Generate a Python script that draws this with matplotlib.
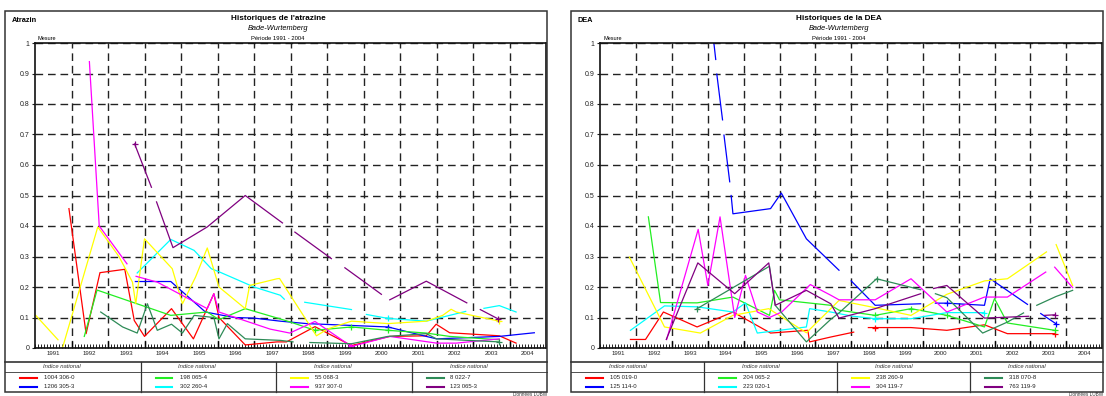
import numpy as np
import matplotlib.pyplot as plt
from matplotlib.lines import Line2D
from matplotlib.patches import Rectangle

plt.rcParams['font.family'] = ['Liberation Sans', 'DejaVu Sans']

W, H = 1106, 396
N = None

# ---- data: atrazine (Bade-Wurtemberg) ----
atz_labels = ['1004 306-0', '1206 305-3', '198 065-4', '302 260-4',
              '55 068-3', '937 307-0', '8 022-7', '123 065-3']

atz_red_x = [1991.93, 1992.40, 1992.78, 1993.46, 1993.72, 1994.00, 1994.74, 1995.34, 1995.90, 1996.04,
             1996.76, 1997.63, 1997.89, 1998.67, 1999.67, 2000.72, 2001.72, 2001.99, 2002.36, 2003.72, 2004.18]
atz_red_y = [0.457, 0.047, 0.247, 0.258, 0.09, 0.038, 0.129, 0.03, 0.178, 0.10,
             0.01, 0.02, 0.02, 0.07, 0.008, 0.038, 0.04, 0.078, 0.05, 0.04, 0.016]

atz_blue_x = [1993.75, 1994.72, 1995.67, 1996.45, 1997.00, 1997.72, 1998.44, 2000.67, 2001.72, 2002.00, 2003.72, 2004.68]
atz_blue_y = [0.218, 0.218, 0.118, 0.10, 0.098, 0.088, 0.08, 0.069, 0.038, 0.03, 0.038, 0.05]

atz_green_x = [1992.35, 1992.70, 1994.72, 1995.72, 1996.04, 1996.76, 1997.70, 1998.00, 1998.67, 1999.67,
               2000.67, 2001.72, 2002.36, 2003.72]
atz_green_y = [0.038, 0.19, 0.107, 0.118, 0.093, 0.129, 0.096, 0.085, 0.058, 0.069,
               0.058, 0.049, 0.038, 0.027]

atz_cyan_x = [1993.80, 1994.72, 1995.36, 1995.83, 1996.04, 1997.00, 1997.72, 1997.83, N, 1998.39, 1999.67, N,
              2000.08, 2000.67, 2001.72, 2002.80, N, 2003.30, 2003.72, 2004.18]
atz_cyan_y = [0.246, 0.356, 0.32, 0.26, 0.25, 0.20, 0.173, 0.16, N, 0.15, 0.126, N,
              0.11, 0.097, 0.088, 0.12, N, 0.13, 0.139, 0.118]

atz_yellow_x = [1991.02, 1991.63, N, 1991.76, 1992.72, 1993.30, 1993.67, 1993.76, 1994.00, 1994.76, 1995.04,
                1995.40, 1995.72, 1996.04, 1996.76, 1996.88, 1997.63, 1997.70, 1998.71, 1999.03, 1999.67,
                2000.67, 2001.72, 2002.17, 2002.40, 2002.54, 2003.72]
atz_yellow_y = [0.107, 0.027, N, 0.003, 0.397, 0.30, 0.216, 0.145, 0.358, 0.26, 0.145,
                0.233, 0.328, 0.20, 0.129, 0.205, 0.227, 0.228, 0.04, 0.063, 0.088,
                0.08, 0.088, 0.107, 0.127, 0.118, 0.088]

atz_magenta_x = [1992.49, 1992.76, 1993.52, N, 1993.77, 1994.35, 1995.72, 1995.90, 1996.04, 1997.44, 1997.98,
                 1998.67, 1999.67, 2000.72, 2002.00, 2002.54, 2003.72]
atz_magenta_y = [0.939, 0.40, 0.276, N, 0.235, 0.216, 0.129, 0.178, 0.118, 0.062, 0.049,
                 0.087, 0.005, 0.038, 0.016, 0.016, 0.03]

atz_sea_x = [1992.80, 1993.40, 1993.80, 1994.08, 1994.35, 1994.74, 1995.04, 1995.36, 1995.90, 1996.04,
             1996.27, 1996.76, 1997.72, 1998.07, N, 1998.53, 1999.67, 2000.67, 2001.72, 2002.00, 2003.72]
atz_sea_y = [0.118, 0.069, 0.049, 0.145, 0.058, 0.078, 0.049, 0.107, 0.10, 0.03,
             0.08, 0.03, 0.025, 0.02, N, 0.018, 0.014, 0.038, 0.047, 0.03, 0.02]

atz_purple_x = [1993.73, 1994.19, N, 1994.33, 1994.78, 1995.72, 1996.76, 1997.78, N, 1998.12, 1999.12, N,
                1999.49, 2000.49, N, 2000.72, 2001.72, 2002.83, N, 2003.20, 2003.68]
atz_purple_y = [0.669, 0.527, N, 0.479, 0.329, 0.397, 0.50, 0.41, N, 0.38, 0.293, N,
                0.263, 0.176, N, 0.158, 0.219, 0.148, N, 0.126, 0.096]

# points drawn with a "+" (indices into each series above)
atz_plus = [[], [7], [8, 9, 10], [13], [26], [12], [20], [0, 20]]

# ---- data: DEA (Bade-Wurtemberg) ----
dea_labels = ['105 019-0', '125 114-0', '204 065-2', '223 020-1',
              '238 260-9', '304 119-7', '318 070-8', '763 119-9']

dea_red_x = [1991.84, 1992.26, 1992.76, 1993.70, 1994.70, 1995.75, 1996.79, 1996.84, 1997.43, 1998.07, N,
             1998.48, 1998.67, 1999.67, 2000.67, 2001.72, 2002.36, 2003.68]
dea_red_y = [0.028, 0.028, 0.118, 0.069, 0.118, 0.049, 0.058, 0.02, 0.036, 0.052, N,
             0.067, 0.067, 0.067, 0.058, 0.076, 0.047, 0.047]

dea_blue_x = [1994.12, 1994.22, N, 1994.25, 1994.41, N, 1994.45, 1994.61, N, 1994.65, 1994.70, 1995.75,
              1996.05, 1996.75, 1997.66, N, 1998.00, 1998.67, 1999.94, N, 2000.35, 2000.67, 2001.72,
              2001.88, 2002.92, N, 2003.29, 2003.71]
dea_blue_y = [1.05, 0.946, N, 0.898, 0.748, N, 0.698, 0.545, N, 0.50, 0.44, 0.457,
              0.508, 0.358, 0.255, N, 0.22, 0.14, 0.145, N, 0.147, 0.147, 0.14,
              0.227, 0.143, N, 0.113, 0.08]

dea_green_x = [1992.34, 1992.68, 1993.70, 1994.70, 1995.72, 1995.86, 1996.00, 1997.43, 1997.66, 1998.67,
               1999.67, 2000.67, 2001.72, 2002.00, 2002.36, 2003.68]
dea_green_y = [0.43, 0.149, 0.148, 0.167, 0.107, 0.189, 0.158, 0.14, 0.124, 0.107,
               0.129, 0.107, 0.069, 0.162, 0.082, 0.058]

dea_cyan_x = [1991.84, 1992.79, 1993.70, 1994.70, 1995.05, 1995.38, 1996.75, 1996.84, 1997.43, 1998.00,
              1998.67, 1999.67, 2000.67, 2001.72]
dea_cyan_y = [0.058, 0.138, 0.135, 0.118, 0.148, 0.049, 0.069, 0.129, 0.118, 0.105,
              0.096, 0.096, 0.116, 0.116]

dea_yellow_x = [1991.81, 1992.79, 1993.79, 1994.70, 1995.70, 1996.75, 1997.43, 1997.66, 1998.67, 1999.67,
                2000.67, 2001.72, 2002.36, 2003.45, N, 2003.72, 2004.18]
dea_yellow_y = [0.298, 0.069, 0.049, 0.107, 0.129, 0.05, 0.129, 0.156, 0.132, 0.107,
                0.176, 0.22, 0.227, 0.315, N, 0.339, 0.205]

dea_magenta_x = [1992.85, 1993.73, 1994.00, 1994.34, 1994.75, 1995.05, 1995.38, 1995.72, 1996.06, 1996.86,
                 1997.43, 1997.66, 1998.67, 1999.67, 2000.67, 2001.72, 2002.36, 2003.43, N, 2003.68, 2004.18]
dea_magenta_y = [0.028, 0.389, 0.205, 0.43, 0.10, 0.238, 0.118, 0.10, 0.118, 0.208,
                 0.173, 0.158, 0.158, 0.227, 0.118, 0.167, 0.167, 0.249, N, 0.265, 0.198]

dea_sea_x = [1993.70, 1995.72, 1995.88, 1996.75, 1997.43, 1997.66, 1998.71, 1999.94, N, 2000.35, 2000.67,
             2001.67, 2002.36, 2002.81, N, 2003.18, 2003.72, 2004.18]
dea_sea_y = [0.129, 0.268, 0.14, 0.02, 0.094, 0.115, 0.227, 0.191, N, 0.178, 0.165,
             0.049, 0.085, 0.115, N, 0.14, 0.169, 0.189]

dea_purple_x = [1992.84, 1993.72, 1994.75, 1995.70, 1995.88, 1996.75, 1997.43, 1997.66, 1998.67, 1999.94, N,
                2000.30, 2000.67, 2001.72, 2002.95, N, 2003.40, 2003.70]
dea_purple_y = [0.028, 0.279, 0.178, 0.279, 0.14, 0.189, 0.145, 0.098, 0.129, 0.178, N,
                0.195, 0.205, 0.098, 0.104, N, 0.107, 0.109]

dea_plus = [[12, 17], [21, 27], [9, 10, 11, 15], [10, 13], [], [], [0, 6], [17]]

years = list(range(1991, 2005))
colors = ['#ff0000', '#0000ff', '#22ee22', '#00ffff', '#ffff00', '#ff00ff', '#2e8b57', '#800080']


def fx(px):
    return px / W


def fy(py):
    return 1 - py / H


def hline(fig, x0, x1, y, lw=1.0, color='#333333'):
    fig.add_artist(Line2D([fx(x0), fx(x1)], [fy(y), fy(y)], lw=lw, color=color))


def vline(fig, x, y0, y1, lw=1.0, color='#333333'):
    fig.add_artist(Line2D([fx(x), fx(x)], [fy(y0), fy(y1)], lw=lw, color=color))


def panel(fig, frame, axbox, xlim, code, title, series, labels, plus):
    l, t, r, b = frame
    fig.add_artist(Rectangle((fx(l), fy(b)), fx(r) - fx(l), fy(t) - fy(b),
                             fill=False, lw=1.1, ec='#333333'))
    al, at, ar, ab = axbox
    ax = fig.add_axes([fx(al), fy(ab), fx(ar) - fx(al), fy(at) - fy(ab)])

    for (x, y), c, pts in zip(series, colors, plus):
        ax.plot(np.array(x, dtype=float), np.array(y, dtype=float), color=c, lw=0.9,
                marker='+', ms=4, mew=0.9, markevery=pts)

    ax.set_xlim(*xlim)
    ax.set_ylim(0, 1)
    ax.set_yticks(np.arange(0, 1.01, 0.1))
    ax.set_yticklabels(['0'] + ['%.1f' % v for v in np.arange(0.1, 0.95, 0.1)] + ['1'])
    ax.set_xticks(years[1:])
    ax.set_xticklabels([])
    ax.set_xticks(np.arange(1991, 2005.01, 1 / 12), minor=True)
    ax.tick_params(axis='y', length=2, width=0.8, pad=2, labelsize=5.0, colors='#222222')
    ax.tick_params(axis='x', which='major', direction='in', length=5, width=0.9, top=False)
    ax.tick_params(axis='x', which='minor', direction='in', length=2.6, width=0.6, top=False)
    ax.grid(True, which='major', ls=(0, (5.5, 3.5)), color='#222222', lw=1.0)
    for s in ax.spines.values():
        s.set_linewidth(1.2)
        s.set_color('#111111')

    sec = ax.secondary_xaxis('bottom')
    sec.set_xticks([yv + 0.5 for yv in years], labels=[str(yv) for yv in years])
    sec.tick_params(length=0, pad=2.5, labelsize=4.4, colors='#222222')
    sec.spines['bottom'].set_visible(False)

    # header
    fig.text(fx(l + 7), fy(20), code, fontsize=5.3, fontweight='bold', va='center')
    cx = (l + r) / 2 + 2
    fig.text(fx(cx), fy(19), title, fontsize=5.9, fontweight='bold', ha='center', va='center')
    fig.text(fx(cx), fy(28.5), 'Bade-Wurtemberg', fontsize=5.3, style='italic', ha='center', va='center')
    fig.text(fx(cx), fy(39), 'Période 1991 - 2004', fontsize=4.2, ha='center', va='center')
    fig.text(fx(al + 3), fy(39), 'Mesure', fontsize=4.0, ha='left', va='center')

    # legend table
    hline(fig, l, r, 362, lw=1.2)
    hline(fig, l, r, 372, lw=0.6)
    col_w = (r - l) / 4
    for k in range(4):
        c0 = l + k * col_w
        if k > 0:
            vline(fig, c0, 362, 392, lw=0.9)
        fig.text(fx(c0 + 38), fy(367), 'Indice national', fontsize=4.2, style='italic',
                 va='center', color='#333333')
        for j in range(2):
            idx = 2 * k + j
            yy = 377.5 + 9 * j
            hline(fig, c0 + 15, c0 + 32, yy, lw=1.5, color=colors[idx])
            fig.text(fx(c0 + 39), fy(yy), labels[idx], fontsize=4.3, va='center', color='#222222')
    fig.text(fx(r), fy(395.6), 'Données LUBW', fontsize=3.4, ha='right', va='baseline', color='#333333')
    return ax


fig = plt.figure(figsize=(W / 100, H / 100), dpi=100)

atz_series = [(atz_red_x, atz_red_y), (atz_blue_x, atz_blue_y), (atz_green_x, atz_green_y),
              (atz_cyan_x, atz_cyan_y), (atz_yellow_x, atz_yellow_y), (atz_magenta_x, atz_magenta_y),
              (atz_sea_x, atz_sea_y), (atz_purple_x, atz_purple_y)]
dea_series = [(dea_red_x, dea_red_y), (dea_blue_x, dea_blue_y), (dea_green_x, dea_green_y),
              (dea_cyan_x, dea_cyan_y), (dea_yellow_x, dea_yellow_y), (dea_magenta_x, dea_magenta_y),
              (dea_sea_x, dea_sea_y), (dea_purple_x, dea_purple_y)]

panel(fig, (5, 11, 547, 392), (35, 43, 546, 348), (1991.04, 2004.98),
      'Atrazin', "Historiques de l'atrazine", atz_series, atz_labels, atz_plus)
panel(fig, (571, 11, 1103, 392), (600, 43, 1102, 348), (1990.99, 2004.71),
      'DEA', 'Historiques de la DEA', dea_series, dea_labels, dea_plus)

fig.savefig('out.png', dpi=100)
